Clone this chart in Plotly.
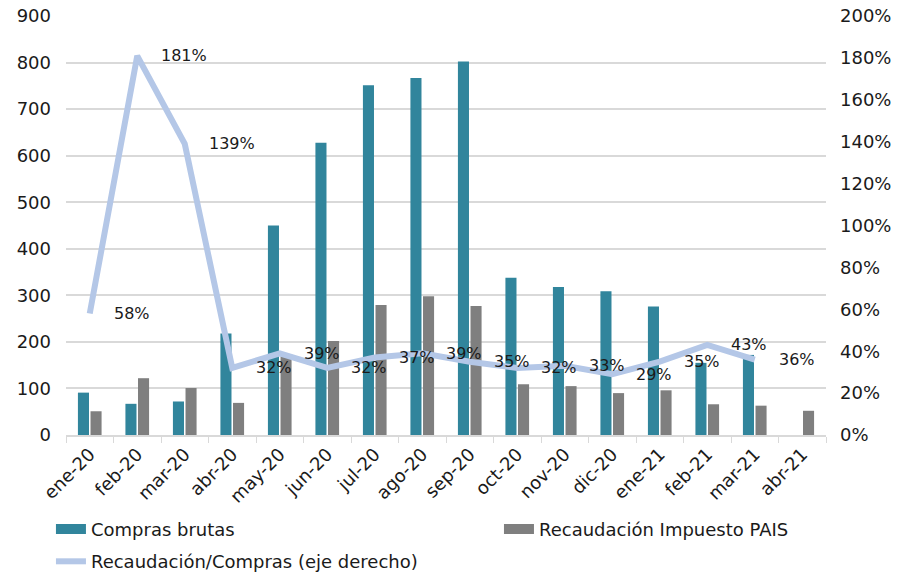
import plotly.graph_objects as go

months = ["ene-20", "feb-20", "mar-20", "abr-20", "may-20", "jun-20", "jul-20", "ago-20",
          "sep-20", "oct-20", "nov-20", "dic-20", "ene-21", "feb-21", "mar-21", "abr-21"]
compras = [91, 67, 72, 218, 450, 628, 751, 767, 802, 338, 318, 309, 276, 155, 172, None]
recaudacion = [51, 122, 101, 69, 172, 202, 279, 298, 277, 109, 105, 90, 96, 66, 63, 52]
ratio = [0.58, 1.81, 1.39, 0.32, 0.39, 0.32, 0.37, 0.39, 0.35, 0.32, 0.33, 0.29, 0.35, 0.43, 0.36, None]
ratio_labels = ["58%", "181%", "139%", "32%", "39%", "32%", "37%", "39%", "35%", "32%",
                "33%", "29%", "35%", "43%", "36%", ""]

FONT = "DejaVu Sans"
TXT = "#1a1a1a"
TEAL = "#31859C"
GRAY = "#7F7F7F"
LBLUE = "#B4C7E7"

fig = go.Figure()
fig.add_trace(go.Bar(x=months, y=compras, name="Compras brutas", showlegend=False,
                     marker=dict(color=TEAL, line=dict(width=0))))
fig.add_trace(go.Bar(x=months, y=recaudacion, name="Recaudación Impuesto PAIS", showlegend=False,
                     marker=dict(color=GRAY, line=dict(width=0))))
fig.add_trace(go.Scatter(x=months, y=ratio, name="Recaudación/Compras (eje derecho)",
                         yaxis="y2", mode="lines", legend="legend3",
                         line=dict(color=LBLUE, width=6)))
# legend-only entries drawn as wide swatches
fig.add_trace(go.Scatter(x=[None], y=[None], name="Compras brutas", mode="lines",
                         legend="legend", line=dict(color=TEAL, width=11)))
fig.add_trace(go.Scatter(x=[None], y=[None], name="Recaudación Impuesto PAIS", mode="lines",
                         legend="legend2", line=dict(color=GRAY, width=11)))

annotations = []
for m, v, t in zip(months, ratio, ratio_labels):
    if v is None:
        continue
    annotations.append(dict(x=m, y=v, xref="x", yref="y2", text=t, showarrow=False,
                            xanchor="left", yanchor="middle", xshift=22,
                            font=dict(family=FONT, size=16, color=TXT)))

leg_common = dict(orientation="h", xanchor="left", yanchor="top",
                  font=dict(family=FONT, size=18, color=TXT),
                  bgcolor="rgba(0,0,0,0)", itemwidth=30)

fig.update_layout(
    width=898, height=578,
    margin=dict(l=66, r=72, t=16, b=143, autoexpand=False),
    plot_bgcolor="white", paper_bgcolor="white",
    font=dict(family=FONT, size=18, color=TXT),
    barmode="group", bargap=0.47, bargroupgap=0.12,
    showlegend=True,
    legend=dict(x=-0.0198, y=-0.181, **leg_common),
    legend2=dict(x=0.5697, y=-0.181, **leg_common),
    legend3=dict(x=-0.0198, y=-0.258, **leg_common),
    annotations=annotations,
    xaxis=dict(type="category", showgrid=False, showline=True, linecolor="#D9D9D9",
               linewidth=1.5, ticks="outside", tickson="boundaries", ticklen=6,
               tickcolor="#D9D9D9", tickangle=-45, automargin=False,
               tickfont=dict(family=FONT, size=18, color=TXT)),
    yaxis=dict(range=[0, 900], dtick=100, showgrid=True, gridcolor="#D9D9D9",
               gridwidth=1.5, zeroline=False, showline=False, ticks="",
               automargin=False, ticklabelstandoff=14,
               tickfont=dict(family=FONT, size=18, color=TXT)),
    yaxis2=dict(range=[0, 2], dtick=0.2, tickformat=".0%", overlaying="y", side="right",
                showgrid=False, zeroline=False, showline=False, ticks="",
                automargin=False, ticklabelstandoff=13,
                tickfont=dict(family=FONT, size=18, color=TXT)),
)

fig.write_html("out.html", config={"displayModeBar": False},
               post_script="document.body.style.margin='0';document.body.style.overflow='hidden';")
